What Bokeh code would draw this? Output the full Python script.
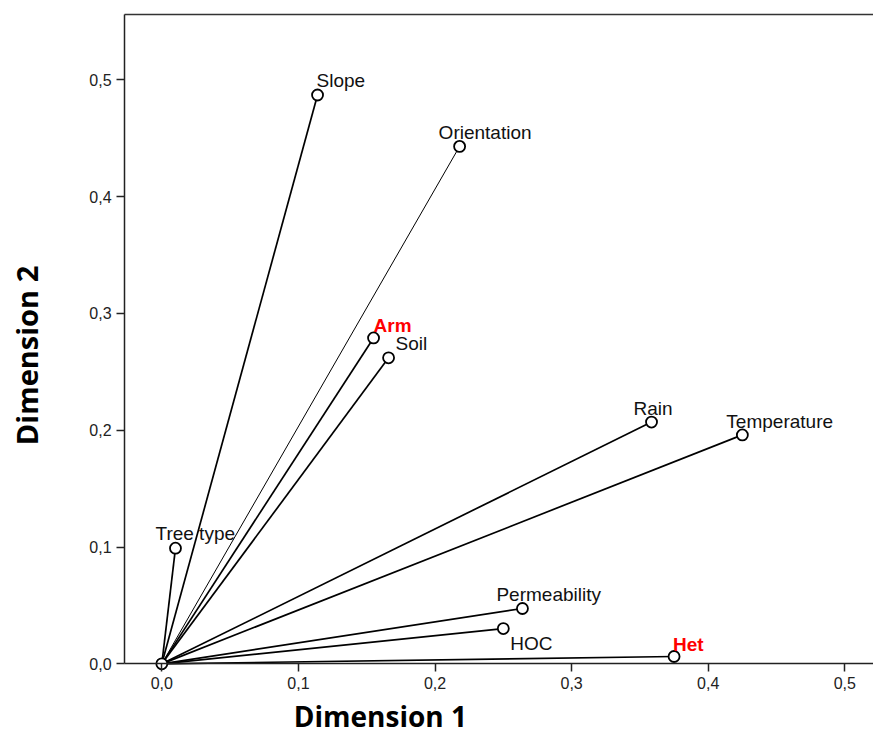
import math
from bokeh.plotting import figure
from bokeh.models import (Range1d, ColumnDataSource, FixedTicker, CustomJSTickFormatter,
                          Label, LinearAxis)
from bokeh.core.properties import value
from bokeh.embed import file_html
from bokeh.resources import INLINE

# ---- data ----
names = ["Slope", "Orientation", "Arm", "Soil", "Rain", "Temperature",
         "Tree type", "Permeability", "HOC", "Het"]
dim1 = [0.114, 0.218, 0.155, 0.166, 0.3585, 0.425, 0.010, 0.264, 0.250, 0.375]
dim2 = [0.487, 0.443, 0.279, 0.262, 0.207, 0.196, 0.099, 0.0474, 0.0302, 0.0063]
highlight = ["Arm", "Het"]
origin_x = [0.0]
origin_y = [0.0]
x_ticks = [0.0, 0.1, 0.2, 0.3, 0.4, 0.5]
y_ticks = [0.0, 0.1, 0.2, 0.3, 0.4, 0.5]
x_title = "Dimension 1"
y_title = "Dimension 2"

# ---- layout / styles ----
# whole canvas is the data frame; the plot box edges of the reference are drawn by axes
VIEW_X = (-0.1181, 0.5210)
VIEW_Y = (-0.0622, 0.5679)
BOX_LEFT = -0.0273
BOX_TOP = 0.5555
label_offsets = {
    "Slope": (-1, -14), "Orientation": (-21, -14), "Arm": (0, -12), "Soil": (7, -14),
    "Rain": (-18, -14), "Temperature": (-16, -13), "Tree type": (-20, -15),
    "Permeability": (-26, -14), "HOC": (7, 15), "Het": (-1, -12),
}
thin_lines = ["Orientation"]

src = ColumnDataSource(dict(
    x=dim1, y=dim2, name=names,
    x0=[origin_x[0]] * len(names), y0=[origin_y[0]] * len(names),
    dx=[label_offsets[n][0] for n in names],
    dy=[label_offsets[n][1] for n in names],
    color=["#FF0000" if n in highlight else "#111111" for n in names],
    fstyle=["bold" if n in highlight else "normal" for n in names],
    lw=[1.0 if n in thin_lines else 1.7 for n in names],
))

p = figure(width=873, height=736, title=None,
           x_range=Range1d(*VIEW_X), y_range=Range1d(*VIEW_Y),
           output_backend="svg", toolbar_location=None, min_border=0)
p.outline_line_color = None
p.xgrid.visible = False
p.ygrid.visible = False
p.background_fill_color = "white"
p.border_fill_color = "white"

p.segment(x0="x0", y0="y0", x1="x", y1="y", source=src, line_color="black", line_width="lw")
p.scatter(x="x", y="y", source=src, size=11, marker="circle",
          fill_color="white", line_color="black", line_width=1.8)
p.scatter(x=origin_x, y=origin_y, size=11, marker="circle",
          fill_color="white", line_color="black", line_width=1.8)
p.text(x="x", y="y", text="name", source=src, x_offset="dx", y_offset="dy",
       text_color="color", text_font_style="fstyle",
       text_font=value("Liberation Sans"), text_font_size="19px",
       text_baseline="alphabetic", text_align="left")

fmt = CustomJSTickFormatter(code="return tick.toFixed(1).replace('.', ',');")
xa, ya = p.xaxis[0], p.yaxis[0]
xa.fixed_location = 0.0
xa.bounds = (BOX_LEFT, VIEW_X[1])
ya.fixed_location = BOX_LEFT
ya.bounds = (0.0, BOX_TOP)
for ax, ticks in ((xa, x_ticks), (ya, y_ticks)):
    ax.ticker = FixedTicker(ticks=ticks)
    ax.formatter = fmt
    ax.minor_tick_line_color = None
    ax.major_tick_out = 8
    ax.major_tick_in = 0
    ax.axis_line_color = "#222222"
    ax.axis_line_width = 1.5
    ax.major_tick_line_color = "#222222"
    ax.major_tick_line_width = 1.5
    ax.major_label_text_font = "Liberation Sans"
    ax.major_label_text_font_size = "16px"
    ax.major_label_text_color = "#222222"
    ax.major_label_standoff = 5

# top edge of the plot box
top_axis = LinearAxis(fixed_location=BOX_TOP, bounds=(BOX_LEFT, VIEW_X[1]),
                      ticker=FixedTicker(ticks=[]), axis_line_color="#333333",
                      axis_line_width=1.5, major_tick_line_color=None,
                      minor_tick_line_color=None)
p.add_layout(top_axis, "above")

# axis titles placed where they sit in the reference
p.add_layout(Label(x=0.160, y=-0.0450, text=x_title, text_align="center",
                   text_baseline="middle", text_font="Open Sans", text_font_style="bold",
                   text_font_size="28px", text_color="black"))
p.add_layout(Label(x=-0.0990, y=0.264, text=y_title, text_align="center",
                   text_baseline="middle", angle=math.pi / 2, text_font="Open Sans",
                   text_font_style="bold", text_font_size="29px", text_color="black"))

open("out.html", "w").write(file_html(p, INLINE))
